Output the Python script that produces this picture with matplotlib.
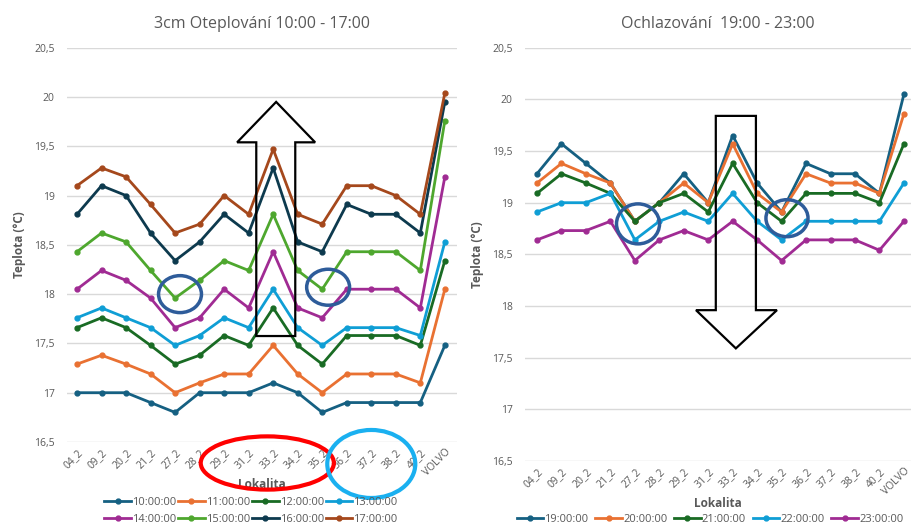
import matplotlib
matplotlib.use("Agg")
from matplotlib import pyplot as plt
from matplotlib.patches import Ellipse, Polygon
from matplotlib.ticker import FuncFormatter

plt.rcParams["font.family"] = ["Open Sans", "DejaVu Sans"]

lokality = ["04_2", "09_2", "20_2", "21_2", "27_2", "28_2", "29_2", "31_2",
            "33_2", "34_2", "35_2", "36_2", "37_2", "38_2", "40_2", "VOLVO"]

# warming 10:00 - 17:00
t10 = [17.0, 17.0, 17.0, 16.9, 16.8, 17.0, 17.0, 17.0, 17.1, 17.0, 16.8, 16.9, 16.9, 16.9, 16.9, 17.48]
t11 = [17.29, 17.38, 17.29, 17.19, 17.0, 17.1, 17.19, 17.19, 17.48, 17.19, 17.0, 17.19, 17.19, 17.19, 17.1, 18.05]
t12 = [17.66, 17.76, 17.66, 17.48, 17.29, 17.38, 17.58, 17.48, 17.86, 17.48, 17.29, 17.58, 17.58, 17.58, 17.48, 18.34]
t13 = [17.76, 17.86, 17.76, 17.66, 17.48, 17.58, 17.76, 17.66, 18.05, 17.66, 17.48, 17.66, 17.66, 17.66, 17.58, 18.53]
t14 = [18.05, 18.24, 18.14, 17.96, 17.66, 17.76, 18.05, 17.86, 18.43, 17.86, 17.76, 18.05, 18.05, 18.05, 17.86, 19.19]
t15 = [18.43, 18.62, 18.53, 18.24, 17.96, 18.14, 18.34, 18.24, 18.81, 18.24, 18.05, 18.43, 18.43, 18.43, 18.24, 19.76]
t16 = [18.81, 19.1, 19.0, 18.62, 18.34, 18.53, 18.81, 18.62, 19.28, 18.53, 18.43, 18.91, 18.81, 18.81, 18.62, 19.95]
t17 = [19.1, 19.28, 19.19, 18.91, 18.62, 18.71, 19.0, 18.81, 19.47, 18.81, 18.71, 19.1, 19.1, 19.0, 18.81, 20.04]

# cooling 19:00 - 23:00
t19 = [19.28, 19.57, 19.38, 19.19, 18.82, 19.0, 19.28, 19.0, 19.65, 19.19, 18.91, 19.38, 19.28, 19.28, 19.09, 20.05]
t20 = [19.19, 19.38, 19.28, 19.19, 18.82, 19.0, 19.19, 19.0, 19.57, 19.09, 18.91, 19.28, 19.19, 19.19, 19.09, 19.86]
t21 = [19.09, 19.28, 19.19, 19.09, 18.82, 19.0, 19.09, 18.91, 19.38, 19.0, 18.82, 19.09, 19.09, 19.09, 19.0, 19.57]
t22 = [18.91, 19.0, 19.0, 19.09, 18.64, 18.82, 18.91, 18.82, 19.09, 18.82, 18.64, 18.82, 18.82, 18.82, 18.82, 19.19]
t23 = [18.64, 18.73, 18.73, 18.82, 18.44, 18.64, 18.73, 18.64, 18.82, 18.64, 18.44, 18.64, 18.64, 18.64, 18.54, 18.82]

warm_labels = ["10:00:00", "11:00:00", "12:00:00", "13:00:00",
               "14:00:00", "15:00:00", "16:00:00", "17:00:00"]
cool_labels = ["19:00:00", "20:00:00", "21:00:00", "22:00:00", "23:00:00"]

colors = ["#156082", "#E97132", "#196B24", "#0F9ED5",
          "#A02B93", "#4EA72E", "#0D3A4E", "#A5481C"]

GRAY = "#595959"


def comma(v, pos):
    s = f"{v:g}"
    return s.replace(".", ",")


def style_axes(ax, title, xmin, xmax):
    ax.set_ylim(16.5, 20.5)
    ax.set_xlim(xmin, xmax)
    ax.set_yticks([16.5, 17, 17.5, 18, 18.5, 19, 19.5, 20, 20.5])
    ax.yaxis.set_major_formatter(FuncFormatter(comma))
    ax.grid(axis="y", color="#D9D9D9", lw=1)
    ax.set_axisbelow(True)
    for s in ax.spines.values():
        s.set_visible(False)
    ax.tick_params(axis="both", length=0, colors=GRAY, labelsize=7.5)
    ax.tick_params(axis="y", pad=9)
    ax.set_xticks(range(len(lokality)))
    ax.set_xticklabels(lokality, rotation=45, ha="right", rotation_mode="anchor")
    ax.set_title(title, color=GRAY, fontsize=11.5, pad=14)
    ax.set_xlabel("Lokalita", color=GRAY, fontsize=8.5, fontweight="bold", labelpad=0)
    ax.set_ylabel("Teplota (°C)", color=GRAY, fontsize=8.5, fontweight="bold", labelpad=6)


def hollow_arrow(ax, x0, x1, wx0, wx1, tip_x, y_base, y_neck, y_tip):
    pts = [(x0, y_base), (x0, y_neck), (wx0, y_neck), (tip_x, y_tip),
           (wx1, y_neck), (x1, y_neck), (x1, y_base)]
    ax.add_patch(Polygon(pts, closed=True, fill=False, edgecolor="black",
                         lw=1.6, zorder=6, clip_on=False))


def ring(ax, x, y, w, h, color, lw):
    ax.add_patch(Ellipse((x, y), w, h, fill=False, edgecolor=color,
                         lw=lw, zorder=7, clip_on=False))


def row_order(handles, labels, ncol):
    # fig.legend fills column by column, reference reads row by row
    nrow = (len(handles) + ncol - 1) // ncol
    idx = [r * ncol + c for c in range(ncol) for r in range(nrow) if r * ncol + c < len(handles)]
    return [handles[i] for i in idx], [labels[i] for i in idx]


fig = plt.figure(figsize=(9.11, 5.27), dpi=100)

# left chart
ax1 = fig.add_axes([0.0735, 0.1613, 0.428, 0.7482])
warm = [t10, t11, t12, t13, t14, t15, t16, t17]
for vals, lab, c in zip(warm, warm_labels, colors):
    ax1.plot(range(len(lokality)), vals, color=c, lw=2, marker="o", ms=3.5, label=lab)
style_axes(ax1, "3cm Oteplování 10:00 - 17:00", -0.41, 15.49)

hollow_arrow(ax1, 7.31, 8.9, 6.53, 9.71, 8.12, 17.575, 19.54, 19.95)
ring(ax1, 4.2, 18.0, 1.75, 0.375, "#2E5C9A", 2.5)
ring(ax1, 10.24, 18.07, 1.75, 0.365, "#2E5C9A", 2.5)
ring(ax1, 7.76, 16.287, 5.43, 0.54, "#FF0000", 3)
ring(ax1, 12.0, 16.277, 3.59, 0.69, "#1AB0F0", 3)

h, l = row_order(*ax1.get_legend_handles_labels(), 4)
fig.legend(h, l, loc="center", ncol=4,
           bbox_to_anchor=(251 / 911, 1 - 511 / 527), frameon=False,
           fontsize=8, labelcolor=GRAY, handlelength=2.4, handletextpad=0.1,
           columnspacing=0.15, borderaxespad=0, labelspacing=0.55)

# right chart
ax2 = fig.add_axes([0.5763, 0.1252, 0.4237, 0.7843])
cool = [t19, t20, t21, t22, t23]
for vals, lab, c in zip(cool, cool_labels, colors):
    ax2.plot(range(len(lokality)), vals, color=c, lw=2, marker="o", ms=3.5, label=lab)
style_axes(ax2, "Ochlazování  19:00 - 23:00", -0.49, 15.29)

hollow_arrow(ax2, 7.31, 8.95, 6.5, 9.81, 8.13, 19.84, 17.96, 17.59)
ring(ax2, 4.13, 18.795, 1.76, 0.387, "#2E5C9A", 2.5)
ring(ax2, 10.22, 18.85, 1.72, 0.358, "#2E5C9A", 2.5)

fig.legend(*ax2.get_legend_handles_labels(), loc="center", ncol=5,
           bbox_to_anchor=(710 / 911, 1 - 519 / 527), frameon=False,
           fontsize=8, labelcolor=GRAY, handlelength=2.4, handletextpad=0.1,
           columnspacing=0.6, borderaxespad=0)

fig.savefig("out.png", dpi=100)
